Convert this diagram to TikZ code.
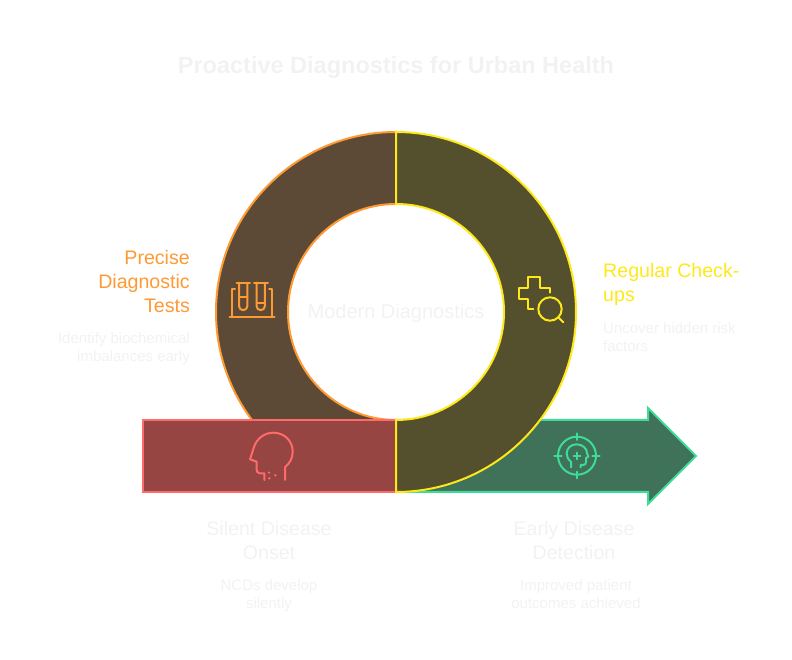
\documentclass[tikz,border=0pt]{standalone}
\usepackage{fontspec}
\setmainfont{Liberation Sans}
\usepackage{xcolor}
\definecolor{orangeline}{RGB}{255, 153, 51}
\definecolor{orangefill}{RGB}{92, 74, 55}
\definecolor{yellowline}{RGB}{255, 232, 26}
\definecolor{yellowfill}{RGB}{84, 80, 46}
\definecolor{redline}{RGB}{255, 107, 107}
\definecolor{redfill}{RGB}{150, 69, 66}
\definecolor{greenline}{RGB}{61, 220, 151}
\definecolor{greenfill}{RGB}{64, 114, 90}
\definecolor{paletext}{RGB}{242, 242, 242}

\begin{document}
\begin{tikzpicture}[
    x=1pt, y=1pt, yscale=-1, yshift=-660pt,
    part/.style={line width=2pt, line join=miter},
    icon/.style={line width=2pt, line cap=round, line join=round},
    title/.style={font=\fontsize{23.5}{28}\selectfont\bfseries, text=paletext, inner sep=0pt},
    heading/.style={font=\fontsize{19.6}{24}\selectfont, align=center, inner sep=0pt},
    caption/.style={font=\fontsize{15}{18}\selectfont, text=paletext, align=center, inner sep=0pt}
]
    \useasboundingbox (0,0) rectangle (792,660);

    % Ring and bar
    \draw[part, draw=greenline, fill=greenfill] (396,420) -- (648,420) -- (648,408) -- (696,456) -- (648,504) -- (648,492) -- (396,492) -- cycle;
    \draw[part, draw=orangeline, fill=orangefill] (396,132) arc (-90:-270:180) -- (396,420) arc (90:270:108) -- cycle;
    \draw[part, draw=redline, fill=redfill] (143,420) rectangle (396,492);
    \draw[part, draw=yellowline, fill=yellowfill] (396,132) arc (-90:90:180) -- (396,420) arc (90:-90:108) -- cycle;

    % Test tubes
    \draw[icon, orangeline] (229.5,317) -- (274.5,317);
    \draw[icon, orangeline] (235,289) -- (232,289) -- (232,317);
    \draw[icon, orangeline] (269,289) -- (272,289) -- (272,317);
    \draw[icon, orangeline] (236.7,282.7) -- (250,282.7);
    \draw[icon, orangeline] (254,282.7) -- (268,282.7);
    \draw[icon, orangeline] (239,282.7) -- (239,306) arc (180:0:4.2) -- (247.4,282.7);
    \draw[icon, orangeline] (256.5,282.7) -- (256.5,306) arc (180:0:4.2) -- (264.9,282.7);
    \draw[icon, orangeline] (239,297.5) -- (247.4,297.5);
    \draw[icon, orangeline] (256.5,303) -- (264.9,303);

    % Cross and lens
    \draw[icon, yellowline] (533.3,309) -- (528.3,309) -- (528.3,299.3) -- (518.7,299.3) -- (518.7,287.7) -- (528.3,287.7) -- (528.3,277.3) -- (540,277.3) -- (540,287.7) -- (550,287.7) -- (550,292.7);
    \draw[icon, yellowline] (550,309) circle (11.7);
    \draw[icon, yellowline] (558.3,317.3) -- (563.3,322.3);

    % Head
    \draw[icon, redline] (264.3,480) -- (264.3,473.3) -- (260,473.3) .. controls (257.5,473.3) and (256.7,471.5) .. (256.7,470) -- (256.7,461.7) -- (250,459.3) -- (254,447) .. controls (257,438) and (265,432.7) .. (273.3,432.7) .. controls (284.5,432.7) and (292.7,441) .. (292.7,451.7) .. controls (292.7,458.5) and (289.5,463.5) .. (285,467.3) -- (285,480);
    \fill[redline] (269,472.7) circle (1.3) (269.3,478.3) circle (1.3) (275.3,475.3) circle (1.3);

    % Target
    \draw[icon, greenline] (577,455.7) circle (19);
    \draw[icon, greenline] (577,433.3) -- (577,440) (577,471.7) -- (577,478.3) (554.3,455.7) -- (561.7,455.7) (592.3,455.7) -- (599.7,455.7);
    \draw[icon, greenline] (573.7,456) -- (580.3,456) (577,452.7) -- (577,459.3);
    \draw[icon, greenline] (571,467.3) -- (571,461.7) .. controls (568,459.5) and (566.7,456.5) .. (566.7,453.7) .. controls (566.7,448) and (571,444.3) .. (576.7,444.3) .. controls (583,444.3) and (587,449) .. (587,453) -- (588.3,456.7) -- (586,458) -- (586,462) .. controls (586,464) and (585,465) .. (583,465) -- (580.7,465) -- (580.7,467.3);

    % Texts
    \node[title] (headline) at (396,67.5) {Proactive Diagnostics for Urban Health};
    \node[font=\fontsize{20}{24}\selectfont, text=paletext, inner sep=0pt] (centre) at (396,313.5) {Modern Diagnostics};

    \node[heading, text=orangeline, anchor=east, align=right] (testshead) at (190,282) {Precise\\Diagnostic\\Tests};
    \node[caption, anchor=east, align=right] (testscap) at (190,349) {Identify biochemical\\imbalances early};

    \node[heading, text=yellowline, anchor=west, align=left] (checkhead) at (603,284.5) {Regular Check-\\ups};
    \node[caption, anchor=west, align=left] (checkcap) at (603,337) {Uncover hidden risk\\factors};

    \node[heading, text=paletext] (onsethead) at (269,540) {Silent Disease\\Onset};
    \node[caption] (onsetcap) at (269,595.5) {NCDs develop\\silently};

    \node[heading, text=paletext] (earlyhead) at (574,540) {Early Disease\\Detection};
    \node[caption] (earlycap) at (576,594) {Improved patient\\outcomes achieved};
\end{tikzpicture}
\end{document}
